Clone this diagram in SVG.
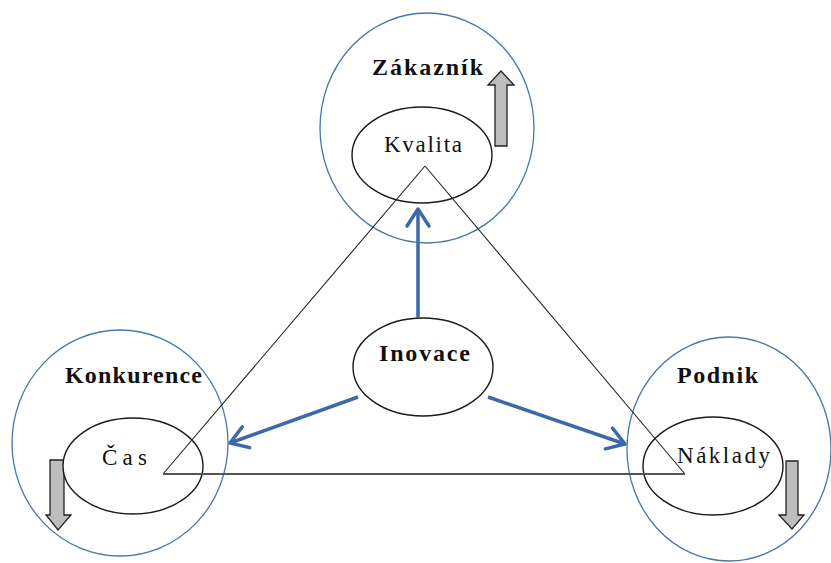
<svg xmlns="http://www.w3.org/2000/svg" width="831" height="563" viewBox="0 0 831 563">
  <style>
    .outer { fill: none; stroke: #4a76ad; stroke-width: 1.3; }
    .inner { fill: #fff; stroke: #1a1a1a; stroke-width: 1.4; }
    .title { font-family: "Liberation Serif", "Times New Roman", serif; font-weight: bold; font-size: 24px; fill: #111; }
    .label { font-family: "Liberation Serif", "Times New Roman", serif; font-size: 23px; fill: #111; }
    .edge { fill: none; stroke: #222; stroke-width: 1.1; }
    .flow { fill: none; stroke: #3d6aa6; stroke-width: 3.5; marker-end: url(#chevron); }
    .block { fill: #bdbdbd; stroke: #222; stroke-width: 1.3; }
  </style>
  <defs>
    <marker id="chevron" markerUnits="userSpaceOnUse" markerWidth="30" markerHeight="30" viewBox="-26 -15 30 30" refX="0" refY="0" orient="auto">
      <path d="M-17,-11 L0,0 L-17,11" fill="none" stroke="#3d6aa6" stroke-width="3.5" stroke-linecap="round" stroke-linejoin="round"/>
    </marker>
  </defs>

  <rect width="831" height="563" fill="#fff"/>

  <!-- outer circles -->
  <g id="zakaznik">
    <ellipse class="outer" cx="427" cy="128" rx="107" ry="115"/>
    <text class="title" x="372" y="75" textLength="111" lengthAdjust="spacing">Zákazník</text>
    <path class="block" d="M495,146 L507,146 L507,85 L514,85 L501,71 L488,85 L495,85 Z"/>
  </g>
  <g id="konkurence">
    <ellipse class="outer" cx="120" cy="443" rx="108" ry="113"/>
    <text class="title" x="65" y="383" textLength="137" lengthAdjust="spacing">Konkurence</text>
    <path class="block" d="M50,460 L64,460 L64,515 L71,515 L58,530 L46,515 L50,515 Z"/>
  </g>
  <g id="podnik">
    <ellipse class="outer" cx="729" cy="449" rx="102" ry="112"/>
    <text class="title" x="677" y="383" textLength="81" lengthAdjust="spacing">Podnik</text>
    <path class="block" d="M786,461 L798,461 L798,515 L804,515 L792,529 L779,515 L786,515 Z"/>
  </g>

  <!-- inner ellipses -->
  <g id="kvalita">
    <ellipse class="inner" cx="422" cy="155" rx="70" ry="48"/>
    <text class="label" x="384" y="152" textLength="78" lengthAdjust="spacing">Kvalita</text>
  </g>
  <g id="cas">
    <ellipse class="inner" cx="133" cy="466" rx="70" ry="48"/>
    <text class="label" x="102" y="465" textLength="45" lengthAdjust="spacing">Čas</text>
  </g>
  <g id="naklady">
    <ellipse class="inner" cx="713" cy="466" rx="70" ry="49"/>
    <text class="label" x="677" y="463" textLength="93" lengthAdjust="spacing">Náklady</text>
  </g>
  <g id="inovace">
    <ellipse class="inner" cx="423" cy="367" rx="70" ry="49"/>
    <text class="title" x="379" y="361" textLength="91" lengthAdjust="spacing">Inovace</text>
  </g>

  <!-- connectors -->
  <g id="connectors">
    <path class="edge" d="M425,166 L163,474"/>
    <path class="edge" d="M425,166 L685,474"/>
    <path d="M163,474 L685,474" fill="none" stroke="#555" stroke-width="2"/>
    <path class="flow" d="M418,318 L418,209"/>
    <path class="flow" d="M358,397 L230,443"/>
    <path class="flow" d="M488,397 L625,444"/>
  </g>
</svg>
